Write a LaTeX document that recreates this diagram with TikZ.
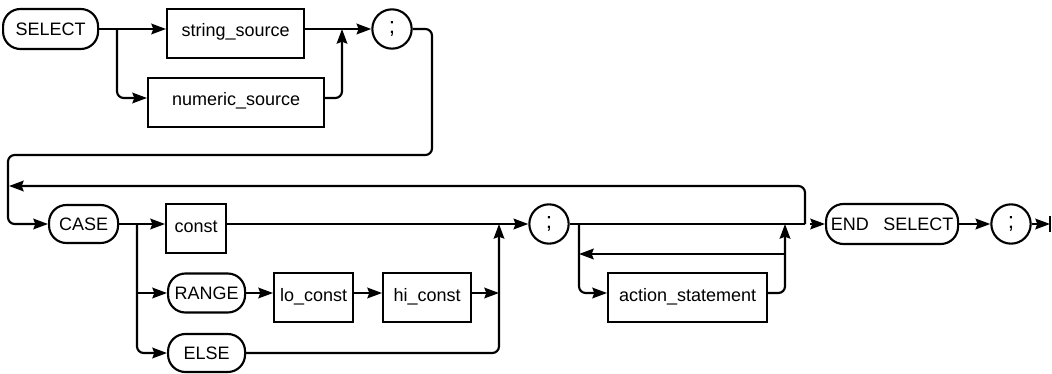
\documentclass[tikz,border=0pt]{standalone}
\usepackage{fontspec}
\setmainfont{Liberation Sans}
\usetikzlibrary{arrows.meta,calc}
\begin{document}
\begin{tikzpicture}[x=0.75pt,y=-0.75pt, line width=1.6pt,
  arr/.style={-{Stealth[length=11pt,width=8pt,inset=1.5pt]}},
  rc/.style={rounded corners=5pt},
  pill/.style={draw, rounded corners=13pt, inner xsep=0pt, inner ysep=0pt, anchor=west,
    font=\fontsize{13.5}{15}\selectfont, text height=9.7pt, text depth=0pt},
  kbox/.style={draw, inner xsep=0pt, inner ysep=0pt, anchor=base west,
    text height=15pt, text depth=21.75pt, font=\fontsize{13.5}{16}\selectfont},
  semi/.style={draw, circle, inner sep=0pt, minimum size=29.5pt, font=\fontsize{17}{19}\selectfont}]
\useasboundingbox (0,0) rectangle (1052,374);

% ---- row 1 ----
\node[pill, minimum width=71.25pt, minimum height=30pt] (sel) at (2,29) {SELECT};
\node[kbox, minimum width=102.75pt] (ss) at (166,29) {\raisebox{-6pt}{string\_source}};
\node[kbox, minimum width=132pt] (ns) at (147,98) {\raisebox{-6pt}{numeric\_source}};
\node[semi] (s1) at (392,29) {;};
\coordinate (b1) at (117,29);
\coordinate (c1) at (342,29);
\coordinate (t1) at (432,155);
\coordinate (t2) at (8,224);

% ---- row 2 ----
\node[pill, minimum width=51.75pt, minimum height=28.5pt] (case) at (48,224) {CASE};
\node[kbox, minimum width=45pt] (const) at (165,224) {\raisebox{-6pt}{const}};
\node[pill, minimum width=57.75pt, minimum height=29.25pt] (range) at (167,293) {RANGE};
\node[kbox, minimum width=59.25pt] (lo) at (273,293) {\raisebox{-6pt}{lo\_const}};
\node[kbox, minimum width=66pt] (hi) at (382,293) {\raisebox{-6pt}{hi\_const}};
\node[pill, minimum width=57.75pt, minimum height=28.5pt] (else) at (167,353) {ELSE};
\node[semi] (s2) at (549,224) {;};
\node[kbox, minimum width=119.25pt] (act) at (607,293) {\raisebox{-6pt}{action\_statement}};
\node[pill, minimum width=99pt, minimum height=30pt] (endsel) at (825,224) {END\hspace{0.8em}SELECT};
\node[semi] (s3) at (1011,224) {;};
\coordinate (b2) at (137,224);
\coordinate (c2) at (499,224);
\coordinate (b3) at (579,224);
\coordinate (c3) at (785,224);
\coordinate (bk) at (785,254);
\coordinate (l1) at (805,224);
\coordinate (l2) at (9,186);
\coordinate (e0) at (810,224);
\coordinate (endbar) at (1050,224);

% ---- connectors row 1 ----
\draw[arr] (sel.east) -- (ss.base west);
\draw[arr,rc] (b1) |- (ns.base west);
\draw[arr] (ss.base east) -- (s1.west);
\draw[arr,rc] (ns.base east) -| (c1);
\draw[arr,rc] (s1.east) -| (t1) -| (t2) -- (case.west);

% ---- connectors row 2 ----
\draw[arr] (case.east) -- (const.base west);
\draw[arr,rc] (b2) |- (else.west);
\draw[arr] (b2 |- range.west) -- (range.west);
\draw[arr] (range.east) -- (lo.base west);
\draw[arr] (lo.base east) -- (hi.base west);
\draw[arr] (hi.base east) -- (hi.base east -| c2);
\draw[arr,rc] (else.east) -| (c2);
\draw[arr] (const.base east) -- (s2.west);
\draw (s2.east) -- (l1);
\draw[arr,rc] (l1) |- (l2);
\draw[arr,rc] (b3) |- (act.base west);
\draw[arr,rc] (act.base east) -| (c3);
\draw[arr] (bk) -- (bk -| b3);
\draw[arr] (e0) -- (endsel.west);
\draw[arr] (endsel.east) -- (s3.west);
\draw[arr] (s3.east) -- (endbar);
\draw ([yshift=-6]endbar) -- ([yshift=6]endbar);
\end{tikzpicture}
\end{document}
